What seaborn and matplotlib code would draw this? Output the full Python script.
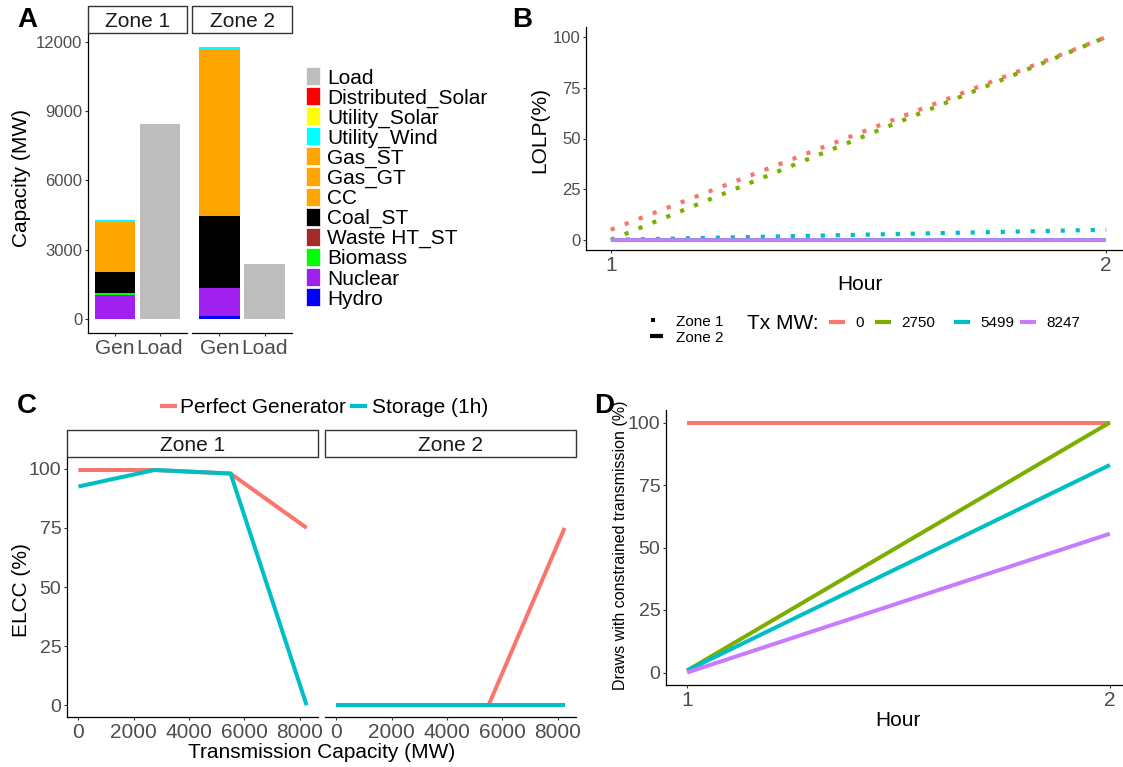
import numpy as np
import pandas as pd
import matplotlib
matplotlib.use("Agg")
import matplotlib.pyplot as plt
from matplotlib.patches import Rectangle
from matplotlib.lines import Line2D
import seaborn as sns

sns.set_theme(style="ticks")
plt.rcParams['font.family'] = ['Liberation Sans', 'DejaVu Sans']
plt.rcParams['lines.dash_capstyle'] = 'butt'
plt.rcParams['lines.solid_capstyle'] = 'butt'
plt.rcParams['text.color'] = 'black'

W, H = 1123, 767

# ---------------- Panel A: installed capacity vs. load ----------------
zone_names = ["Zone 1", "Zone 2"]
bar_order = ["Gen", "Load"]
# stacking order, bottom to top
fuel_types = ["Hydro", "Nuclear", "Biomass", "Waste HT_ST", "Coal_ST", "CC",
              "Gas_GT", "Gas_ST", "Utility_Wind", "Utility_Solar", "Distributed_Solar"]
fuel_colors = ["#0000FF", "#A020F0", "#00FF00", "#A52A2A", "#000000", "#FFA500",
               "#FFA500", "#FFA500", "#00FFFF", "#FFFF00", "#FF0000"]
gen_zone1 = [0, 1050, 100, 0, 915, 1000, 620, 500, 115, 0, 0]
gen_zone2 = [160, 1210, 0, 0, 3105, 3520, 1600, 2100, 85, 0, 0]
load_mw = [8460, 2385]
load_color = "#BEBEBE"

# ---------------- Panel B: LOLP by hour ----------------
hours = [1, 2]
tx_labels = ["0", "2750", "5499", "8247"]
tx_colors = ["#F8766D", "#7CAE00", "#00BFC4", "#C77CFF"]
lolp_z1_tx0 = [5, 100]
lolp_z1_tx2750 = [0, 100]
lolp_z1_tx5499 = [0, 5]
lolp_z1_tx8247 = [0, 0]
lolp_z2_tx0 = [0, 0]
lolp_z2_tx2750 = [0, 0]
lolp_z2_tx5499 = [0, 0]
lolp_z2_tx8247 = [0, 0]

# ---------------- Panel C: ELCC vs transmission ----------------
tx_capacity = [0, 2750, 5499, 8247]
resources = ["Perfect Generator", "Storage (1h)"]
resource_colors = ["#F8766D", "#00BFC4"]
elcc_perfect_z1 = [99.5, 99.5, 98, 75]
elcc_storage_z1 = [92.5, 99.5, 98, 0]
elcc_perfect_z2 = [0, 0, 0, 75]
elcc_storage_z2 = [0, 0, 0, 0]

# ---------------- Panel D: constrained draws ----------------
constrained_tx0 = [100, 100]
constrained_tx2750 = [0.8, 100]
constrained_tx5499 = [0.8, 83]
constrained_tx8247 = [0, 55.5]

AXIS_COL = "#000000"
TICK_COL = "#333333"
LAB_COL = "#4D4D4D"

fig = plt.figure(figsize=(W / 100, H / 100), dpi=100)


def px_axes(x0, y0, x1, y1):
    return fig.add_axes([x0 / W, 1 - y1 / H, (x1 - x0) / W, (y1 - y0) / H])


def fx(x):
    return x / W


def fy(y):
    return 1 - y / H


def style_axes(ax, left=True, tick_size=12, xtick_size=None):
    for s in ["top", "right"]:
        ax.spines[s].set_visible(False)
    ax.spines["bottom"].set_color(AXIS_COL)
    ax.spines["bottom"].set_linewidth(0.9)
    if left:
        ax.spines["left"].set_color(AXIS_COL)
        ax.spines["left"].set_linewidth(0.9)
    else:
        ax.spines["left"].set_visible(False)
        ax.tick_params(axis="y", left=False, labelleft=False)
    ax.tick_params(axis="both", length=2.5, width=0.8, color=TICK_COL,
                   labelcolor=LAB_COL, pad=1.5)
    ax.tick_params(axis="y", labelsize=tick_size)
    ax.tick_params(axis="x", labelsize=xtick_size or tick_size)
    ax.set_xlabel("")
    ax.set_ylabel("")
    ax.grid(False)
    ax.set_facecolor("white")


def strip(x0, x1, y0, y1, text, size=15):
    fig.add_artist(Rectangle((fx(x0), fy(y1)), (x1 - x0) / W, (y1 - y0) / H,
                             transform=fig.transFigure, facecolor="white",
                             edgecolor="#333333", linewidth=1.0))
    fig.text(fx((x0 + x1) / 2), fy((y0 + y1) / 2), text, ha="center",
             va="center_baseline", fontsize=size, color="#1A1A1A")


# ===== Panel A =====
gen_by_zone = [gen_zone1, gen_zone2]
a_bounds = [(88, 187), (192, 292)]
for zi, zone in enumerate(zone_names):
    ax = px_axes(a_bounds[zi][0], 33, a_bounds[zi][1], 333)
    cum = np.cumsum(gen_by_zone[zi])
    # draw cumulative tops from the highest down so each segment shows
    for k in range(len(fuel_types) - 1, -1, -1):
        seg = pd.DataFrame({"bar": ["Gen"], "mw": [cum[k]]})
        sns.barplot(data=seg, x="bar", y="mw", order=bar_order, color=fuel_colors[k],
                    saturation=1, width=0.9, edgecolor="none", linewidth=0, ax=ax)
    load_df = pd.DataFrame({"bar": ["Load"], "mw": [load_mw[zi]]})
    sns.barplot(data=load_df, x="bar", y="mw", order=bar_order, color=load_color,
                saturation=1, width=0.9, edgecolor="none", linewidth=0, ax=ax)
    ax.set_xlim(-0.6, 1.6)
    ax.set_ylim(-589, 12372)
    ax.set_yticks([0, 3000, 6000, 9000, 12000])
    style_axes(ax, left=(zi == 0), tick_size=12, xtick_size=15)
    strip(a_bounds[zi][0], a_bounds[zi][1], 6, 33, zone)

fig.text(fx(22), fy(178), "Capacity (MW)", rotation=90, ha="center", va="center",
         fontsize=15)

legend_labels = ["Load", "Distributed_Solar", "Utility_Solar", "Utility_Wind", "Gas_ST",
                 "Gas_GT", "CC", "Coal_ST", "Waste HT_ST", "Biomass", "Nuclear", "Hydro"]
legend_cols = [load_color] + fuel_colors[::-1]
for i, (lab, col) in enumerate(zip(legend_labels, legend_cols)):
    yc = 76 + i * 20.1
    fig.add_artist(Rectangle((fx(306), fy(yc + 9)), 14 / W, 18 / H,
                             transform=fig.transFigure, facecolor=col,
                             edgecolor="white", linewidth=0.5))
    fig.text(fx(327), fy(yc), lab, ha="left", va="center_baseline", fontsize=15)

# ===== Panel B =====
rows = []
lolp_sets = {
    ("Zone 1", "0"): lolp_z1_tx0, ("Zone 1", "2750"): lolp_z1_tx2750,
    ("Zone 1", "5499"): lolp_z1_tx5499, ("Zone 1", "8247"): lolp_z1_tx8247,
    ("Zone 2", "0"): lolp_z2_tx0, ("Zone 2", "2750"): lolp_z2_tx2750,
    ("Zone 2", "5499"): lolp_z2_tx5499, ("Zone 2", "8247"): lolp_z2_tx8247,
}
for (zone, tx), vals in lolp_sets.items():
    for h, v in zip(hours, vals):
        rows.append({"Hour": h, "LOLP": v, "Tx": tx, "Zone": zone})
lolp_df = pd.DataFrame(rows)

axB = px_axes(586, 27, 1131, 250)
# Zone 1: dotted, Zone 2: solid (drawn on top)
sns.lineplot(data=lolp_df[lolp_df["Zone"] == "Zone 1"], x="Hour", y="LOLP", hue="Tx",
             hue_order=tx_labels, palette=tx_colors, linewidth=3.0, estimator=None,
             sort=False, legend=False, dashes=False, ax=axB)
for line in axB.get_lines():
    line.set_dashes((1, 2.6))
sns.lineplot(data=lolp_df[lolp_df["Zone"] == "Zone 2"], x="Hour", y="LOLP", hue="Tx",
             hue_order=tx_labels, palette=tx_colors, linewidth=2.6, estimator=None,
             sort=False, legend=False, ax=axB)
axB.set_xlim(0.95, 2.05)
axB.set_ylim(-5, 105)
axB.set_xticks([1, 2])
axB.set_yticks([0, 25, 50, 75, 100])
style_axes(axB, tick_size=12, xtick_size=15)
fig.text(fx(540), fy(130), "LOLP(%)", rotation=90, ha="center", va="center", fontsize=15)
fig.text(fx(860), fy(285), "Hour", ha="center", va="center", fontsize=15)

# legend for panel B
fig.add_artist(Line2D([fx(651), fx(655)], [fy(320), fy(320)], transform=fig.transFigure,
                      color="black", linewidth=2.8))
fig.add_artist(Line2D([fx(650), fx(663)], [fy(336), fy(336)], transform=fig.transFigure,
                      color="black", linewidth=3.0))
fig.text(fx(676), fy(320), "Zone 1", ha="left", va="center_baseline", fontsize=11)
fig.text(fx(676), fy(336), "Zone 2", ha="left", va="center_baseline", fontsize=11)
fig.text(fx(747), fy(322), "Tx MW:", ha="left", va="center_baseline", fontsize=15)
key_x = [829, 875, 954, 1020]
for kx, lab, col in zip(key_x, tx_labels, tx_colors):
    fig.add_artist(Line2D([fx(kx), fx(kx + 16)], [fy(322), fy(322)],
                          transform=fig.transFigure, color=col, linewidth=3.0))
    fig.text(fx(kx + 26), fy(322), lab, ha="left", va="center_baseline", fontsize=11)

# ===== Panel C =====
elcc_sets = [(elcc_perfect_z1, elcc_storage_z1), (elcc_perfect_z2, elcc_storage_z2)]
c_bounds = [(67, 318), (325, 576)]
for zi, zone in enumerate(zone_names):
    rows = []
    for res, vals in zip(resources, elcc_sets[zi]):
        for t, v in zip(tx_capacity, vals):
            rows.append({"Tx": t, "ELCC": v, "Resource": res})
    cdf = pd.DataFrame(rows)
    ax = px_axes(c_bounds[zi][0], 457, c_bounds[zi][1], 717)
    sns.lineplot(data=cdf, x="Tx", y="ELCC", hue="Resource", hue_order=resources,
                 palette=resource_colors, linewidth=2.9, estimator=None, sort=False,
                 legend=False, ax=ax)
    ax.set_xlim(-412, 8659)
    ax.set_ylim(-5, 105)
    ax.set_xticks([0, 2000, 4000, 6000, 8000])
    ax.set_yticks([0, 25, 50, 75, 100])
    style_axes(ax, left=(zi == 0), tick_size=14, xtick_size=15)
    strip(c_bounds[zi][0], c_bounds[zi][1], 430, 457, zone)

fig.text(fx(22), fy(590), "ELCC (%)", rotation=90, ha="center", va="center", fontsize=15)
fig.text(fx(322), fy(752), "Transmission Capacity (MW)", ha="center", va="center",
         fontsize=15)
for kx, tx_x, lab, col in [(160, 180, resources[0], resource_colors[0]),
                           (350, 372, resources[1], resource_colors[1])]:
    fig.add_artist(Line2D([fx(kx), fx(kx + 17)], [fy(406), fy(406)],
                          transform=fig.transFigure, color=col, linewidth=3.0))
    fig.text(fx(tx_x), fy(406), lab, ha="left", va="center_baseline", fontsize=15)

# ===== Panel D =====
rows = []
for tx, vals in zip(tx_labels, [constrained_tx0, constrained_tx2750,
                                constrained_tx5499, constrained_tx8247]):
    for h, v in zip(hours, vals):
        rows.append({"Hour": h, "Draws": v, "Tx": tx})
ddf = pd.DataFrame(rows)
axD = px_axes(666, 410, 1131, 685)
sns.lineplot(data=ddf, x="Hour", y="Draws", hue="Tx", hue_order=tx_labels,
             palette=tx_colors, linewidth=2.9, estimator=None, sort=False,
             legend=False, ax=axD)
axD.set_xlim(0.95, 2.05)
axD.set_ylim(-5, 105)
axD.set_xticks([1, 2])
axD.set_yticks([0, 25, 50, 75, 100])
style_axes(axD, tick_size=14, xtick_size=15)
fig.text(fx(620), fy(545), "Draws with constrained transmission (%)", rotation=90,
         ha="center", va="center", fontsize=11.5)
fig.text(fx(898), fy(720), "Hour", ha="center", va="center", fontsize=15)

# panel tags
for tag, x, y in [("A", 17, 20), ("B", 512, 20), ("C", 17, 406), ("D", 594, 406)]:
    fig.text(fx(x), fy(y), tag, ha="left", va="center", fontsize=20, fontweight="bold",
             color="black")

fig.savefig("out.png", dpi=100, facecolor="white")
